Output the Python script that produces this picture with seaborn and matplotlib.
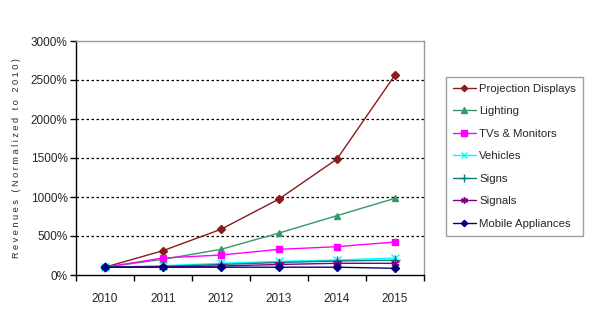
import matplotlib
matplotlib.use("Agg")
import matplotlib.pyplot as plt
import seaborn as sns
import pandas as pd
import numpy as np
from matplotlib.ticker import FuncFormatter, FixedLocator

years = ["2010", "2011", "2012", "2013", "2014", "2015"]
projection = [100, 312, 586, 974, 1487, 2564]
lighting = [100, 201, 329, 538, 761, 983]
tvs = [100, 218, 256, 329, 363, 423]
vehicles = [100, 120, 150, 175, 192, 218]
signs = [100, 110, 135, 160, 180, 190]
signals = [100, 105, 115, 135, 150, 150]
mobile = [100, 100, 100, 100, 100, 86]

series_names = ["Projection Displays", "Lighting", "TVs & Monitors", "Vehicles",
                "Signs", "Signals", "Mobile Appliances"]
series_vals = [projection, lighting, tvs, vehicles, signs, signals, mobile]
colors = ["#8B1A1A", "#339966", "#FF00FF", "#00FFFF", "#008080", "#800080", "#000080"]
markers = ["D", "^", "s", "x", "+", (6, 2, 0), "D"]
msizes = [4, 5, 5, 6, 7, 6, 4]

rows = []
for name, vals in zip(series_names, series_vals):
    for i, (y, v) in enumerate(zip(years, vals)):
        rows.append({"series": name, "idx": i, "year": y, "value": v})
df = pd.DataFrame(rows)

sns.set_style("white")
plt.rcParams["font.family"] = ["Liberation Sans", "DejaVu Sans"]

fig = plt.figure(figsize=(6, 3.24), dpi=100)
ax = fig.add_axes([76/600, 1-275/324, (424-76)/600, (275-41)/324])

for name, c, m, ms in zip(series_names, colors, markers, msizes):
    sub = df[df.series == name]
    sns.lineplot(data=sub, x="idx", y="value", ax=ax, color=c, marker=m,
                 markersize=ms, markeredgecolor=c, markerfacecolor=c,
                 markeredgewidth=1, linewidth=1, label=name, legend=False)

ax.set_xlim(-0.5, 5.5)
ax.set_ylim(0, 3000)
ax.set_yticks(np.arange(0, 3001, 500))
ax.yaxis.set_major_formatter(FuncFormatter(lambda v, p: f"{int(v)}%"))
ax.xaxis.set_major_locator(FixedLocator(np.arange(-0.5, 5.6, 1)))
ax.set_xticklabels([])
for i, y in enumerate(years):
    ax.text(i, -0.075, y, transform=ax.get_xaxis_transform(), ha="center", va="top", fontsize=8.5)
ax.tick_params(axis="both", direction="out", length=4, width=1, color="black",
               labelsize=8.5, left=True, bottom=True, pad=2)
for v in range(500, 3000, 500):
    ax.axhline(v, color="black", linestyle=(0, (2, 2)), linewidth=0.9, zorder=0)
ax.set_xlabel("")
ax.set_ylabel("R e v e n u e s   ( N o r m a l i z e d   t o   2 0 1 0 )", fontsize=6.6, labelpad=7)
ax.spines["left"].set_color("black")
ax.spines["bottom"].set_color("black")
ax.spines["top"].set_color("#999999")
ax.spines["right"].set_color("#999999")
for s in ax.spines.values():
    s.set_linewidth(1)

handles, labels = ax.get_legend_handles_labels()
leg = fig.legend(handles, labels, loc="upper left", bbox_to_anchor=(446/600, 1-77/324),
                 borderaxespad=0,
                 fontsize=8.2, frameon=True, fancybox=False, edgecolor="#888888",
                 handlelength=2.0, labelspacing=1.1, borderpad=0.6, handletextpad=0.3,
                 markerscale=0.8)
leg.get_frame().set_linewidth(1)

fig.savefig("out.png", dpi=100)
